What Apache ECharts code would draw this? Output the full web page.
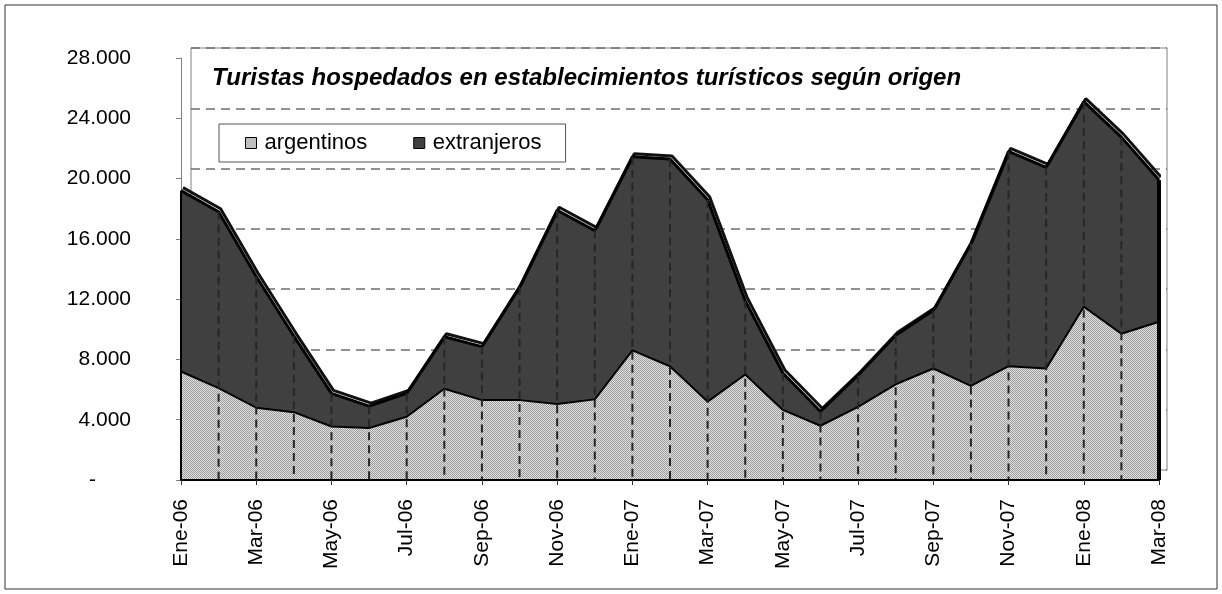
<!DOCTYPE html>
<html>
<head>
<meta charset="utf-8">
<script src="https://cdn.jsdelivr.net/npm/echarts@6/dist/echarts.min.js"></script>
<style>
html, body { margin: 0; padding: 0; background: #fff; }
#container { width: 1222px; height: 594px; }
</style>
</head>
<body>
<div id="container"></div>
<script>
var months = ['Ene-06','Feb-06','Mar-06','Abr-06','May-06','Jun-06','Jul-06','Ago-06','Sep-06','Oct-06','Nov-06','Dic-06',
              'Ene-07','Feb-07','Mar-07','Abr-07','May-07','Jun-07','Jul-07','Ago-07','Sep-07','Oct-07','Nov-07','Dic-07',
              'Ene-08','Feb-08','Mar-08'];
var argentinos  = [7200, 6100, 4800, 4500, 3550, 3450, 4200, 6050, 5300, 5300, 5050, 5350,
                   8600, 7550, 5200, 7000, 4650, 3600, 4850, 6350, 7400, 6250, 7550, 7400,
                   11500, 9700, 10500];
var extranjeros = [12000, 11700, 8700, 5050, 2200, 1450, 1550, 3450, 3550, 7500, 12850, 11200,
                   12850, 13750, 13400, 4900, 2450, 950, 2100, 3250, 3850, 9450, 14250, 13350,
                   13600, 13050, 9400];
var yMax = 28000, yStep = 4000;

var font = "'Liberation Sans', Arial, sans-serif";

// dotted grey texture like the original fill
function dots() {
    var c = document.createElement('canvas');
    c.width = 2; c.height = 2;
    var g = c.getContext('2d');
    g.fillStyle = '#e0e0e0';
    g.fillRect(0, 0, 2, 2);
    g.fillStyle = '#9c9c9c';
    g.fillRect(0, 0, 1, 1);
    g.fillRect(1, 1, 1, 1);
    return c;
}
var dotFill = { image: dots(), repeat: 'repeat' };
var darkFill = '#404040';

var totals = months.map(function (m, i) { return [i, argentinos[i] + extranjeros[i]]; });

function fmt(v) {
    if (v === 0) return '-      ';
    return String(v).replace(/\B(?=(\d{3})+(?!\d))/g, '.');
}

var dom = document.getElementById('container');
var myChart = echarts.init(dom);
var option = {
    animation: false,
    textStyle: { fontFamily: font },
    title: {
        text: 'Turistas hospedados en establecimientos turísticos según origen',
        left: 212,
        top: 66,
        padding: 0,
        textStyle: { fontSize: 24, fontWeight: 'bold', fontStyle: 'italic', color: '#000', fontFamily: font }
    },
    legend: {
        data: [
            { name: 'argentinos', itemStyle: { color: dotFill, borderColor: '#000', borderWidth: 1 } },
            { name: 'extranjeros', itemStyle: { color: darkFill, borderColor: '#000', borderWidth: 1 } }
        ],
        icon: 'rect',
        left: 219,
        top: 124,
        orient: 'horizontal',
        padding: [8, 24, 8, 26],
        itemWidth: 11,
        itemHeight: 11,
        itemGap: 46,
        backgroundColor: '#fff',
        borderColor: '#555',
        borderWidth: 1,
        textStyle: { fontSize: 22, lineHeight: 22, color: '#000', fontFamily: font, padding: [0, 0, 0, 3] }
    },
    graphic: [{
        type: 'rect',
        shape: { x: 5, y: 5, width: 1212, height: 584 },
        style: { fill: null, stroke: '#333', lineWidth: 1 },
        silent: true
    }],
    grid: [
        { left: 191, right: 55, top: 48, bottom: 124, show: true, borderColor: '#808080', borderWidth: 1 },
        { left: 181, right: 63, top: 58, bottom: 114 }
    ],
    xAxis: [
        { gridIndex: 0, type: 'category', data: months, boundaryGap: false, show: false },
        {
            gridIndex: 1, type: 'category', data: months, boundaryGap: false, z: 4,
            axisLine: { lineStyle: { color: '#000', width: 2 } },
            axisTick: { interval: 1, length: 5, lineStyle: { color: '#333' } },
            axisLabel: { interval: 1, rotate: 90, margin: 19, fontSize: 21, color: '#000', fontFamily: font },
            splitLine: { show: false }
        }
    ],
    yAxis: [
        {
            gridIndex: 0, type: 'value', min: 0, max: yMax, interval: yStep,
            axisLine: { show: false }, axisTick: { show: false }, axisLabel: { show: false },
            splitLine: { show: true, lineStyle: { color: '#6e6e6e', width: 1.5, type: [9, 6] } }
        },
        {
            gridIndex: 1, type: 'value', min: 0, max: yMax, interval: yStep,
            axisLine: { show: true, lineStyle: { color: '#808080', width: 1 } },
            axisTick: { show: true, length: 5, lineStyle: { color: '#808080' } },
            axisLabel: { margin: 50, fontSize: 21, color: '#000', fontFamily: font, formatter: fmt },
            splitLine: { show: false }
        }
    ],
    series: [
        {
            name: 'argentinos',
            type: 'line',
            xAxisIndex: 1, yAxisIndex: 1,
            stack: 'total',
            showSymbol: false,
            color: '#c0c0c0',
            lineStyle: { color: '#000', width: 2 },
            areaStyle: { color: dotFill, opacity: 1 },
            data: argentinos,
            z: 2
        },
        {
            name: 'extranjeros',
            type: 'line',
            xAxisIndex: 1, yAxisIndex: 1,
            stack: 'total',
            showSymbol: false,
            color: darkFill,
            lineStyle: { color: '#000', width: 3, shadowColor: '#111', shadowOffsetX: 2, shadowOffsetY: -3, shadowBlur: 0 },
            areaStyle: { color: darkFill, opacity: 1 },
            data: extranjeros,
            z: 2
        },
        {
            name: 'drop',
            type: 'custom',
            xAxisIndex: 1, yAxisIndex: 1,
            silent: true,
            z: 3,
            encode: { x: 0, y: 1 },
            renderItem: function (params, api) {
                var i = api.value(0);
                var top = api.coord([i, api.value(1)]);
                var bot = api.coord([i, 0]);
                var last = i === months.length - 1;
                var edge = i === 0 || last;
                return {
                    type: 'line',
                    shape: { x1: top[0], y1: top[1], x2: bot[0], y2: bot[1] },
                    style: { stroke: edge ? '#000' : '#262626', lineWidth: last ? 4 : 2, lineDash: edge ? null : [8, 5] }
                };
            },
            data: totals
        }
    ]
};
if (option && typeof option === 'object') {
    myChart.setOption(option, true);
}
</script>
</body>
</html>
